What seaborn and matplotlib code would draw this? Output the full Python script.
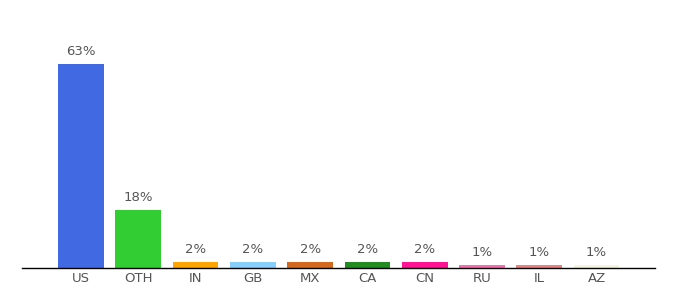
import matplotlib
matplotlib.use("Agg")
import matplotlib.pyplot as plt
import seaborn as sns
import pandas as pd

countries = ["US", "OTH", "IN", "GB", "MX", "CA", "CN", "RU", "IL", "AZ"]
values = [63, 18, 2, 2, 2, 2, 2, 1, 1, 1]
labels = ["63%", "18%", "2%", "2%", "2%", "2%", "2%", "1%", "1%", "1%"]
colors = ["#4169E1", "#32CD32", "#FFA500", "#87CEFA", "#D2691E",
          "#228B22", "#FF1493", "#FF69B4", "#F08080", "#F5F5DC"]

df = pd.DataFrame({"country": countries, "value": values})

sns.set_style("white")
plt.rcParams['font.family'] = ['DejaVu Sans']

fig = plt.figure(figsize=(6.8, 3.0), dpi=100)
ax = fig.add_axes([22/680, 32/300, (655-22)/680, (268-41.2)/300])

sns.barplot(data=df, x="country", y="value", hue="country",
            palette=colors, legend=False, width=0.8, ax=ax, saturation=1,
            linewidth=0, edgecolor="none")

for p, lab in zip(ax.patches, labels):
    ax.annotate(lab, (p.get_x() + p.get_width()/2, p.get_height()),
                xytext=(0, 4), textcoords="offset points",
                ha="center", va="bottom", fontsize=9.5, color="#555555")

ax.set_xlim(-1.03, 10.02)
ax.set_ylim(0, 70)
ax.set_xlabel("")
ax.set_ylabel("")
ax.set_yticks([])
for s in ["top", "right", "left"]:
    ax.spines[s].set_visible(False)
ax.spines["bottom"].set_color("#000000")
ax.spines["bottom"].set_linewidth(1)
ax.spines["bottom"].set_zorder(5)
ax.tick_params(axis="x", length=0, labelsize=9.5, labelcolor="#555555", pad=3)

fig.savefig("out.png", dpi=100)
